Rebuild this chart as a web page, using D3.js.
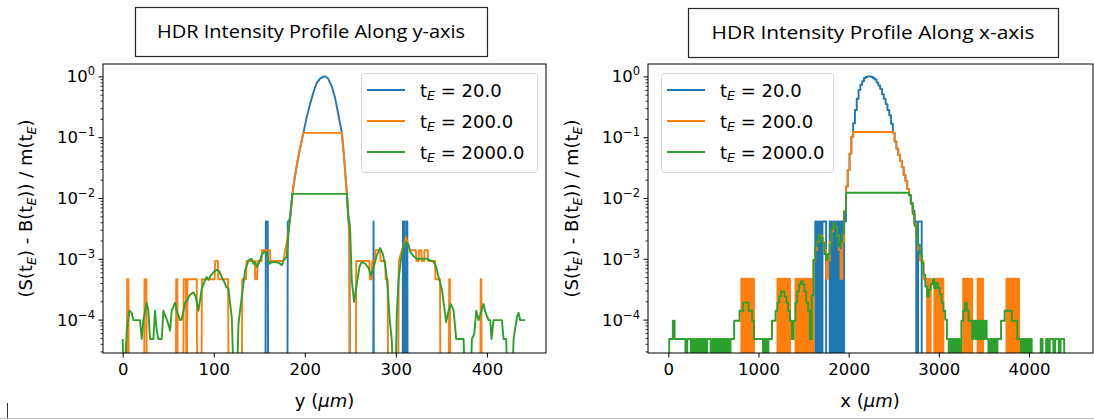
<!DOCTYPE html>
<html>
<head>
<meta charset="utf-8">
<script src="https://cdn.jsdelivr.net/npm/d3@7"></script>
<style>
  body { margin: 0; background: #fff; }
  svg { display: block; }
</style>
</head>
<body>
<svg id="fig" width="1094" height="420"></svg>
<script>
// ---------------- data ----------------
const exposures = ["20.0", "200.0", "2000.0"];
const seriesColors = ["#1f77b4", "#ff7f0e", "#2ca02c"];
const yTickValues = [1, 1e-1, 1e-2, 1e-3, 1e-4];
const yTickExponents = ["0", "\u22121", "\u22122", "\u22123", "\u22124"];
const yProfileTicks = [0, 100, 200, 300, 400];
const xProfileTicks = [0, 1000, 2000, 3000, 4000];

// Profile along y: [position (µm), normalised signal]
const yProfileBlue = [
  [0,0],[156.8,0],[157.2,4.1e-3],[159.3,4.1e-3],[159.7,0],[180.9,0],[181.3,4.1e-3],[182.5,4.1e-3],
  [184,5.0e-3],[186.4,0.0117],[189,0.022],[192,0.040],[195,0.068],[198.5,0.118],[202,0.21],
  [206,0.36],[209.5,0.55],[213,0.78],[217,0.93],[221,1.0],[223.5,0.98],[226,0.90],[229.7,0.68],
  [233.3,0.44],[237,0.23],[240.7,0.118],[243,0.05],[246.2,0.0117],[248,4.1e-3],[249,4.1e-3],
  [249.4,0],[275.2,0],[275.5,4.1e-3],[275.8,0],[307.5,0],[307.8,4.1e-3],[309,4.1e-3],[309.3,0],
  [311,0],[311.3,4.1e-3],[312.6,4.1e-3],[312.9,0],[444,0]
];
const yProfileOrange = [
  [0,0],[4.4,0],[5.0,4.6e-4],[6.2,4.6e-4],[6.8,0],[23.5,0],[24,4.6e-4],[26,4.6e-4],[26.5,0],
  [58.3,0],[58.8,4.6e-4],[60,4.6e-4],[60.5,0],[66.5,0],[67,4.6e-4],[69.5,4.6e-4],[70,0],[70.6,0],
  [71.1,4.6e-4],[81.3,4.6e-4],[81.8,0],[86.5,0],[87,4.6e-4],[101,4.6e-4],[101.5,9.2e-4],
  [104.5,9.2e-4],[105,4.6e-4],[115.8,4.6e-4],[116.3,0],[130.8,0],[131.3,4.6e-4],[135.5,4.6e-4],
  [136,9.2e-4],[145,9.2e-4],[145.5,4.6e-4],[147.5,4.6e-4],[148,9.2e-4],[152.5,9.2e-4],
  [153,1.38e-3],[161.8,1.38e-3],[162.3,9.2e-4],[176.6,9.2e-4],[178.4,1.38e-3],[180.2,1.84e-3],
  [182,2.8e-3],[184,5.0e-3],[186.4,0.0117],[189,0.022],[192,0.040],[195,0.068],[198.5,0.118],
  [240.7,0.118],[243,0.05],[246.2,0.0117],[248,4.1e-3],[249,1.84e-3],[249.5,0],[256,0],
  [256.5,9.2e-4],[271,9.2e-4],[271.5,4.6e-4],[273.5,4.6e-4],[274,9.2e-4],[277,9.2e-4],
  [277.5,1.38e-3],[282.8,1.38e-3],[283.3,9.2e-4],[288.3,9.2e-4],[288.8,4.6e-4],[291,4.6e-4],
  [291.5,0],[302.6,0],[303.2,9.2e-4],[306.6,1.38e-3],[309.5,1.84e-3],[311,2.3e-3],[313,1.84e-3],
  [315.5,1.38e-3],[322,1.38e-3],[322.5,9.2e-4],[325,9.2e-4],[325.5,1.38e-3],[328,1.38e-3],
  [328.5,9.2e-4],[331,9.2e-4],[331.5,1.38e-3],[335,1.38e-3],[335.5,9.2e-4],[343,9.2e-4],
  [343.5,4.6e-4],[348.5,4.6e-4],[349,0],[358.2,0],[358.6,4.6e-4],[359.3,4.6e-4],[359.7,0],
  [392.8,0],[393.2,4.6e-4],[393.9,4.6e-4],[394.3,0],[444,0]
];
const yProfileGreen = [
  [0,4.8e-5],[1.5,0],[4.4,6.6e-5],[7.3,1.4e-4],[9.9,1.3e-4],[11.7,9.8e-5],[19,9.8e-5],[20.9,4.8e-5],
  [22.7,9.8e-5],[26.4,1.9e-4],[28.2,1.4e-4],[30,4.8e-5],[33.7,4.8e-5],[35.5,1.4e-4],[37.4,6.6e-5],
  [39.2,4.8e-5],[42.9,4.8e-5],[44.7,1.4e-4],[48.4,1.0e-4],[50.2,8.3e-5],[52,6.6e-5],[53.8,1.4e-4],
  [57.5,1.9e-4],[59.3,1.4e-4],[63,9.8e-5],[64.8,1.0e-4],[68.5,1.9e-4],[71.1,2.1e-4],[73.3,2.5e-4],
  [75.8,2.7e-4],[77.7,2.8e-4],[80.2,2.4e-4],[83.2,1.4e-4],[86.8,3.2e-4],[90.5,4.5e-4],[92.3,5.0e-4],
  [94.1,4.5e-4],[96.7,5.3e-4],[99.6,6.0e-4],[103.3,6.6e-4],[105.9,6.3e-4],[108.8,5.0e-4],
  [111.4,4.2e-4],[113.6,3.5e-4],[116.1,3.2e-4],[119.8,1.1e-4],[122.3,0],[125.3,0],[127.1,8.3e-5],
  [130.8,2.4e-4],[132.6,3.9e-4],[134.4,6.4e-4],[138.1,9.4e-4],[141.8,1.0e-3],[143.6,8.3e-4],
  [145.4,8.8e-4],[147.3,7.3e-4],[150.2,8.8e-4],[152.7,1.15e-3],[155.3,1.3e-3],[158.2,1.2e-3],
  [161.2,8.3e-4],[163.7,8.8e-4],[169.2,8.8e-4],[172.9,8.3e-4],[174.7,7.8e-4],[176.6,9.4e-4],
  [178.4,1.0e-3],[180.2,1.1e-3],[182,2.6e-3],[184,5.0e-3],[186.4,0.0117],[246.2,0.0117],
  [248,4.9e-3],[249.8,3.0e-3],[251.6,4.4e-4],[254.2,1.95e-4],[257.1,3.9e-4],[260.1,7.4e-4],
  [262.6,8.9e-4],[266.3,8.3e-4],[270,7.1e-4],[272.5,5.3e-4],[275.5,7.1e-4],[279.1,1.15e-3],
  [282.8,1.5e-3],[285.7,1.2e-3],[288.3,7.8e-4],[290.8,3.9e-4],[293,1.1e-4],[295.6,4.5e-5],
  [297.4,0],[299.3,0],[301.1,1.25e-4],[302.9,4.4e-4],[305.5,9.4e-4],[308.4,1.6e-3],[311.4,1.9e-3],
  [313.9,1.7e-3],[315.8,1.3e-3],[319.4,1.1e-3],[323.1,1.0e-3],[334.1,1.0e-3],[337.7,9.4e-4],
  [341.4,8.9e-4],[344.3,7.4e-4],[346.9,5.0e-4],[350.5,3.2e-4],[353.1,1.6e-4],[355.3,9.1e-5],
  [357.9,1.4e-4],[360.4,1.8e-4],[363.4,1.4e-4],[366.3,4.8e-5],[374.4,4.8e-5],[376.2,0],[381.7,0],
  [383.5,4.8e-5],[386.1,5.8e-5],[388.3,1.4e-4],[390.8,9.8e-5],[393.4,1.3e-4],[396.3,1.8e-4],
  [398.5,1.3e-4],[401.8,9.8e-5],[403.7,9.8e-5],[405.1,4.8e-5],[407.3,9.8e-5],[416.5,9.8e-5],
  [418.3,4.8e-5],[421.2,4.8e-5],[422.7,0],[427.5,0],[429.3,4.8e-5],[433,1.1e-4],[434.8,1.3e-4],
  [436.6,9.8e-5],[442,9.8e-5]
];

// Profile along x: samples every 20 µm from 0 to 4480 µm
const xProfilePositions = d3.range(0, 4481, 20);
const xProfileBlue = [
  0,0,0,0,0,0,0,0,0,0,            // 0
  0,0,0,0,0,0,0,0,0,0,            // 200
  0,0,0,0,0,0,0,0,0,0,            // 400
  0,0,0,0,0,0,0,0,0,0,            // 600
  0,0,0,0,0,0,0,0,0,0,            // 800
  0,0,0,0,0,0,0,0,0,0,            // 1000
  0,0,0,0,0,0,0,0,0,0,            // 1200
  0,0,0,0,0,0,0,0,0,0,            // 1400
  0,0,4.1e-3,0,4.1e-3,0,4.1e-3,4.1e-3,0,0,                      // 1600
  4.1e-3,0,4.1e-3,0,4.1e-3,0,4.1e-3,0,4.1e-3,0.0155,            // 1800
  0.0288,0.0537,0.102,0.17,0.28,0.43,0.60,0.73,0.83,0.94,       // 2000
  0.98,1.0,1.0,0.98,0.93,0.89,0.79,0.71,0.62,0.51,              // 2200
  0.43,0.35,0.28,0.23,0.166,0.117,0.085,0.065,0.051,0.041,      // 2400
  0.032,0.024,0.019,0.014,0.0112,0.0083,0.0062,4.1e-3,0,4.1e-3, // 2600
  4.1e-3,0,0,0,0,0,0,0,0,0,       // 2800
  0,0,0,0,0,0,0,0,0,0,            // 3000
  0,0,0,0,0,0,0,0,0,0,            // 3200
  0,0,0,0,0,0,0,0,0,0,            // 3400
  0,0,0,0,0,0,0,0,0,0,            // 3600
  0,0,0,0,0,0,0,0,0,0,            // 3800
  0,0,0,0,0,0,0,0,0,0,            // 4000
  0,0,0,0,0,0,0,0,0,0,            // 4200
  0,0,0,0,0                       // 4400
];
const xProfileOrange = [
  0,0,0,0,0,0,0,0,0,0,            // 0
  0,0,0,0,0,0,0,0,0,0,            // 200
  0,0,0,0,0,0,0,0,0,0,            // 400
  0,0,0,0,0,0,0,0,0,0,            // 600
  0,4.7e-4,0,4.7e-4,0,4.7e-4,0,4.7e-4,0,0,                      // 800
  0,0,0,0,0,0,0,0,0,0,            // 1000
  0,4.7e-4,0,4.7e-4,0,4.7e-4,0,4.7e-4,0,0,                      // 1200
  0,4.7e-4,0,4.7e-4,0,4.7e-4,0,4.7e-4,0,4.7e-4,                 // 1400
  0,9.4e-4,1.4e-3,1.9e-3,2.4e-3,2.4e-3,1.9e-3,1.4e-3,4.7e-4,9.4e-4,       // 1600
  1.9e-3,2.8e-3,3.8e-3,3.3e-3,2.4e-3,1.4e-3,4.7e-4,1.9e-3,6.1e-3,0.0155,  // 1800
  0.0288,0.0537,0.102,0.122,0.122,0.122,0.122,0.122,0.122,0.122,          // 2000
  0.122,0.122,0.122,0.122,0.122,0.122,0.122,0.122,0.122,0.122,            // 2200
  0.122,0.122,0.122,0.122,0.122,0.117,0.085,0.065,0.051,0.041,            // 2400
  0.032,0.024,0.019,0.014,0.0112,8.0e-3,5.6e-3,3.8e-3,2.4e-3,1.4e-3,      // 2600
  9.4e-4,9.4e-4,4.7e-4,4.7e-4,0,4.7e-4,0,0,4.7e-4,0,            // 2800
  4.7e-4,0,4.7e-4,0,0,0,0,0,0,0,                                // 3000
  0,0,0,0,4.7e-4,0,4.7e-4,0,4.7e-4,0,                           // 3200
  0,0,4.7e-4,0,4.7e-4,0,0,0,0,0,                                // 3400
  0,0,0,0,0,0,0,0,4.7e-4,0,                                     // 3600
  4.7e-4,0,4.7e-4,0,4.7e-4,0,0,0,0,0,                           // 3800
  0,0,0,0,0,0,0,0,0,0,            // 4000
  0,0,0,0,0,0,0,0,0,0,            // 4200
  0,0,0,0,0                       // 4400
];
const xProfileGreen = [
  0,4.8e-5,4.8e-5,9.6e-5,4.8e-5,4.8e-5,4.8e-5,4.8e-5,4.8e-5,4.8e-5,       // 0
  0,4.8e-5,4.8e-5,0,4.8e-5,0,4.8e-5,0,4.8e-5,0,                           // 200
  4.8e-5,0,4.8e-5,4.8e-5,0,4.8e-5,0,4.8e-5,0,4.8e-5,                      // 400
  0,4.8e-5,0,4.8e-5,0,4.8e-5,4.8e-5,9.6e-5,9.6e-5,9.6e-5,                 // 600
  1.4e-4,1.4e-4,1.9e-4,1.9e-4,1.9e-4,1.4e-4,1.4e-4,9.6e-5,4.8e-5,4.8e-5,  // 800
  4.8e-5,4.8e-5,4.8e-5,0,4.8e-5,0,4.8e-5,4.8e-5,9.6e-5,9.6e-5,            // 1000
  1.4e-4,1.9e-4,2.4e-4,2.9e-4,2.9e-4,2.4e-4,1.9e-4,1.4e-4,9.6e-5,4.8e-5,  // 1200
  9.6e-5,1.9e-4,2.9e-4,3.8e-4,4.3e-4,3.8e-4,2.9e-4,1.9e-4,1.4e-4,4.8e-5,  // 1400
  2.5e-4,9.6e-4,1.6e-3,2.0e-3,2.5e-3,2.2e-3,1.8e-3,1.2e-3,9.6e-4,1.2e-3,  // 1600
  1.7e-3,3.2e-3,3.8e-3,3.2e-3,2.3e-3,1.6e-3,1.9e-3,2.6e-3,6.0e-3,0.0122,  // 1800
  0.0122,0.0122,0.0122,0.0122,0.0122,0.0122,0.0122,0.0122,0.0122,0.0122,  // 2000
  0.0122,0.0122,0.0122,0.0122,0.0122,0.0122,0.0122,0.0122,0.0122,0.0122,  // 2200
  0.0122,0.0122,0.0122,0.0122,0.0122,0.0122,0.0122,0.0122,0.0122,0.0122,  // 2400
  0.0122,0.0122,0.0122,0.0122,0.011,8.0e-3,5.5e-3,3.5e-3,2.4e-3,1.7e-3,   // 2600
  1.2e-3,8.5e-4,5.5e-4,3.5e-4,2.4e-4,3.1e-4,3.8e-4,4.6e-4,3.3e-4,4.0e-4,  // 2800
  3.3e-4,2.6e-4,1.9e-4,1.4e-4,1.0e-4,4.8e-5,0,4.8e-5,0,4.8e-5,            // 3000
  0,4.8e-5,0,9.6e-5,1.4e-4,1.9e-4,1.4e-4,9.6e-5,9.6e-5,4.8e-5,            // 3200
  9.6e-5,4.8e-5,9.6e-5,4.8e-5,9.6e-5,4.8e-5,9.6e-5,4.8e-5,0,4.8e-5,       // 3400
  0,4.8e-5,0,4.8e-5,4.8e-5,9.6e-5,9.6e-5,1.4e-4,1.4e-4,1.4e-4,            // 3600
  1.4e-4,9.6e-5,9.6e-5,9.6e-5,4.8e-5,4.8e-5,0,4.8e-5,0,4.8e-5,            // 3800
  0,4.8e-5,0,0,0,0,0,4.8e-5,0,0,                                          // 4000
  4.8e-5,0,4.8e-5,4.8e-5,0,4.8e-5,4.8e-5,0,4.8e-5,4.8e-5,                 // 4200
  0,0,0,0,0                                                               // 4400
];

// ---------------- drawing ----------------
const svg = d3.select("#fig");
const FONT = "DejaVu Sans, Verdana, sans-serif";
const LINE_W = 1.9;

// slide title boxes
function titleBox(x, y, w, h, text, textW) {
  svg.append("rect").attr("x", x + 0.5).attr("y", y + 0.5).attr("width", w).attr("height", h)
    .attr("fill", "#fff").attr("stroke", "#262626").attr("stroke-width", 1.2);
  svg.append("text").attr("x", x + w / 2).attr("y", y + 31)
    .attr("text-anchor", "middle").attr("font-family", "Open Sans, Lato, sans-serif")
    .attr("font-size", 18).attr("fill", "#000")
    .attr("textLength", textW).attr("lengthAdjust", "spacingAndGlyphs")
    .text(text);
}

// appends "t" with italic subscript E, returns a tspan for the following text
function appendTE(sel, size) {
  sel.append("tspan").text("t");
  sel.append("tspan").attr("font-style", "italic").attr("font-size", size * 0.7)
    .attr("dy", size * 0.22).text("E");
  return sel.append("tspan").attr("dy", -size * 0.22);
}

function drawPanel(p) {
  const g = svg.append("g");
  const x = d3.scaleLinear().domain([p.xTicks[0], p.xTicks[p.xTicks.length - 1]]).range(p.tickRange);
  const y = d3.scaleLog().domain([1, 1e-4]).range([76.4, 319.6]);
  const { left, right, top, bottom } = p.frame;
  const py = v => (v > 0 ? y(v) : bottom + 40);

  const clipId = "clip" + p.id;
  svg.append("clipPath").attr("id", clipId).append("rect")
    .attr("x", left).attr("y", top).attr("width", right - left).attr("height", bottom - top);

  const line = d3.line().x(d => x(d[0])).y(d => py(d[1])).curve(p.curve);
  const lines = g.append("g").attr("clip-path", `url(#${clipId})`);
  p.series.forEach((s, i) => {
    lines.append("path").datum(s).attr("d", line)
      .attr("fill", "none").attr("stroke", seriesColors[i])
      .attr("stroke-width", LINE_W).attr("stroke-linejoin", "round");
  });

  // x axis
  const xAxis = d3.axisBottom(x).tickValues(p.xTicks).tickSize(4.5).tickPadding(3).tickFormat(d3.format("d"));
  const gx = g.append("g").attr("transform", `translate(0,${bottom})`).call(xAxis);
  gx.select(".domain").remove();
  gx.selectAll("line").attr("stroke", "#000").attr("stroke-width", 1);
  gx.selectAll("text").attr("font-family", FONT).attr("font-size", 16.5).attr("fill", "#000").attr("dy", "0.85em");

  // y axis: major decades
  const yAxis = d3.axisLeft(y).tickValues(yTickValues).tickSize(4.5).tickFormat("");
  const gy = g.append("g").attr("transform", `translate(${left},0)`).call(yAxis);
  gy.select(".domain").remove();
  gy.selectAll("line").attr("stroke", "#000").attr("stroke-width", 1);
  // minor ticks
  const minor = [];
  for (let k = -5; k <= 0; k++) for (let m = 2; m <= 9; m++) {
    const v = m * Math.pow(10, k);
    if (y(v) >= top && y(v) <= bottom) minor.push(v);
  }
  const gym = g.append("g").attr("transform", `translate(${left},0)`)
    .call(d3.axisLeft(y).tickValues(minor).tickSize(2.5).tickFormat(""));
  gym.select(".domain").remove();
  gym.selectAll("line").attr("stroke", "#000").attr("stroke-width", 0.8);

  // decade labels 10^n
  yTickValues.forEach((v, i) => {
    const t = g.append("text").attr("x", left - 8).attr("y", y(v) + 6)
      .attr("text-anchor", "end").attr("font-family", FONT).attr("font-size", 16.5).attr("fill", "#000");
    t.append("tspan").text("10");
    t.append("tspan").attr("font-size", 11.5).attr("dy", -7).text(yTickExponents[i]);
  });

  // frame
  g.append("rect").attr("x", left).attr("y", top).attr("width", right - left).attr("height", bottom - top)
    .attr("fill", "none").attr("stroke", "#000").attr("stroke-width", 1);

  // axis titles
  const xl = g.append("text").attr("x", p.xLabelX).attr("y", 407)
    .attr("text-anchor", "middle")
    .attr("font-family", FONT).attr("font-size", 18).attr("fill", "#000");
  xl.append("tspan").text(p.xVar + " (");
  xl.append("tspan").attr("font-style", "italic").text("\u03bcm");
  xl.append("tspan").text(")");

  const yl = g.append("text").attr("transform", `translate(${p.yLabelX},${(top + bottom) / 2}) rotate(-90)`)
    .attr("text-anchor", "middle").attr("font-family", FONT).attr("font-size", 18).attr("fill", "#000");
  let tail = appendTE(yl.append("tspan").text("(S("), 18);
  tail.text(") - B(");
  tail = appendTE(yl, 18); tail.text(")) / m(");
  tail = appendTE(yl, 18); tail.text(")");

  // legend
  const lg = g.append("g");
  lg.append("rect").attr("x", p.legend.x + 0.5).attr("y", p.legend.y + 0.5)
    .attr("width", p.legend.w).attr("height", p.legend.h).attr("rx", 3)
    .attr("fill", "#fff").attr("fill-opacity", 0.8).attr("stroke", "#d6d6d6").attr("stroke-width", 1);
  exposures.forEach((e, i) => {
    const yy = p.legend.y + 17 + i * 31;
    lg.append("line").attr("x1", p.legend.x + 6).attr("x2", p.legend.x + 44)
      .attr("y1", yy).attr("y2", yy).attr("stroke", seriesColors[i]).attr("stroke-width", LINE_W);
    const t = lg.append("text").attr("x", p.legend.x + 59).attr("y", yy + 6.5)
      .attr("font-family", FONT).attr("font-size", 18).attr("fill", "#000");
    const rest = appendTE(t, 18);
    rest.text(" = " + e);
  });
}

titleBox(135, 7, 352, 49, "HDR Intensity Profile Along y-axis", 308);
titleBox(688, 8, 370, 49, "HDR Intensity Profile Along x-axis", 323);

drawPanel({
  id: "Y",
  xTicks: yProfileTicks,
  tickRange: [122.7, 486.9],
  frame: { left: 103, right: 546, top: 64, bottom: 353 },
  series: [yProfileBlue, yProfileOrange, yProfileGreen],
  curve: d3.curveLinear,
  xVar: "y", xLabelX: 324.5, yLabelX: 32,
  legend: { x: 361, y: 73, w: 176, h: 99 }
});

drawPanel({
  id: "X",
  xTicks: xProfileTicks,
  tickRange: [668.3, 1029],
  frame: { left: 648, right: 1093, top: 64, bottom: 353 },
  series: [
    xProfilePositions.map((p, i) => [p, xProfileBlue[i]]),
    xProfilePositions.map((p, i) => [p, xProfileOrange[i]]),
    xProfilePositions.map((p, i) => [p, xProfileGreen[i]])
  ],
  curve: d3.curveStep,
  xVar: "x", xLabelX: 870, yLabelX: 578,
  legend: { x: 661, y: 73, w: 172, h: 99 }
});

// slide edge marks
svg.append("line").attr("x1", 0).attr("x2", 1094).attr("y1", 418.5).attr("y2", 418.5)
  .attr("stroke", "#bdbdbd").attr("stroke-width", 1);
svg.append("line").attr("x1", 7.5).attr("x2", 7.5).attr("y1", 403).attr("y2", 418)
  .attr("stroke", "#333").attr("stroke-width", 1);
</script>
</body>
</html>
